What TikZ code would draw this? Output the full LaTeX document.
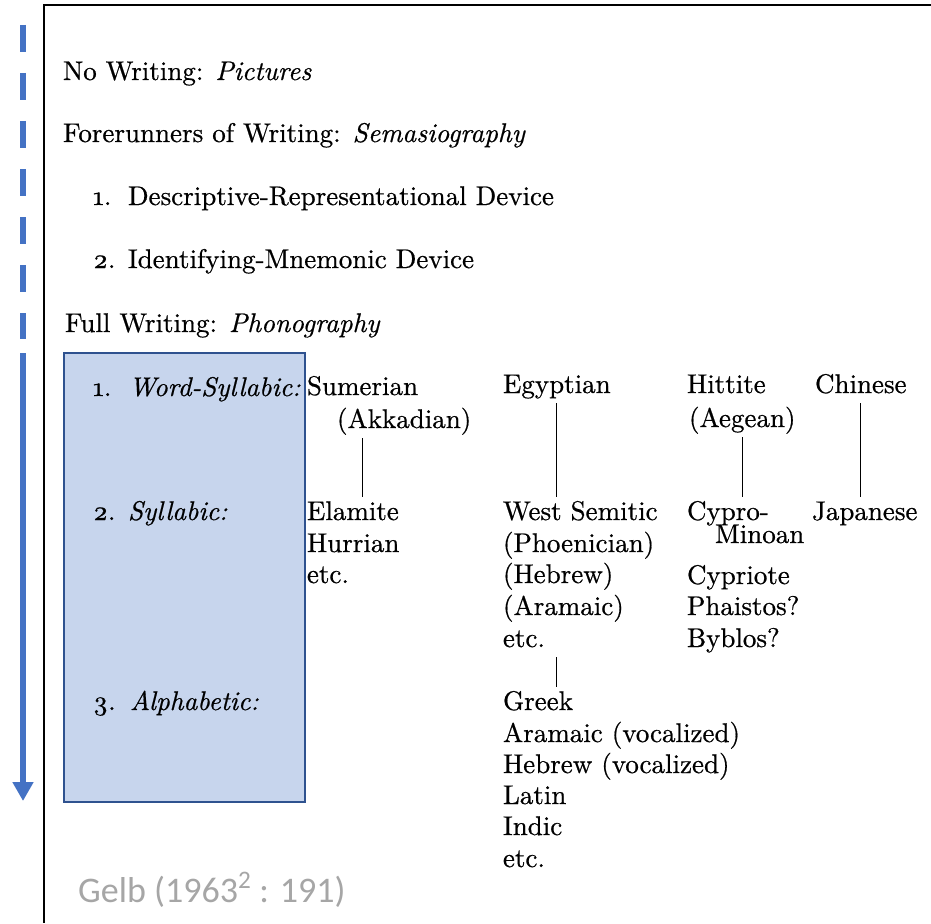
\RequirePackage{fix-cm}
\documentclass[tikz,border=0pt]{standalone}
\usepackage{fontspec}
\setmainfont{lmroman10-regular.otf}[FakeBold=0.6, ItalicFont=lmroman10-italic.otf, ItalicFeatures={FakeBold=0.6}]
\newfontfamily\gelbfont{Carlito}
\usetikzlibrary{arrows.meta}
\definecolor{arrowblue}{HTML}{4472C4}
\definecolor{boxfill}{HTML}{C7D5ED}
\definecolor{boxline}{HTML}{2F528F}
\definecolor{citegray}{HTML}{A6A6A6}
\newcommand{\osn}[1]{\oldstylenums{#1}}
\tikzset{
  txt/.style={anchor=base west, inner sep=0pt, outer sep=0pt, text height=19pt, text depth=7pt, font=\fontsize{27}{32}\selectfont},
  link/.style={line width=1.3pt, shorten <=3pt, shorten >=4pt},
  frame/.style={line width=1.6pt, black},
  bluebox/.style={draw=boxline, fill=boxfill, line width=1.6pt, inner sep=0pt},
  blueline/.style={draw=arrowblue, line width=6pt, line cap=butt},
  cite/.style={anchor=base west, inner sep=0pt, text=citegray, font=\gelbfont\fontsize{36}{42}\selectfont}
}
\begin{document}
\begin{tikzpicture}[x=1pt,y=-1pt]
\useasboundingbox (0,0) rectangle (931,923);
\fill[white] (0,0) rectangle (931,923);
% frame
\coordinate (fr0) at (931,5);
\coordinate (fr1) at (44,5);
\coordinate (fr2) at (44,923);
\draw[frame] (fr0) -- (fr1) -- (fr2);
% blue box
\node[bluebox, anchor=north west, minimum width=241pt, minimum height=449pt] (box) at (63,352) {};
% blue arrow
\coordinate (d0) at (23,25);
\coordinate (d1) at (23,339);
\coordinate (s0) at (23,353);
\coordinate (s1) at (23,801);
\draw[blueline, dash pattern=on 27pt off 21pt] (d0) -- (d1);
\draw[blueline, -{Triangle[width=20pt,length=19pt]}] (s0) -- (s1);
% upper list
\node[txt] (nw) at (63,80) {No Writing: \textit{Pictures}};
\node[txt] (fore) at (63,142) {Forerunners of Writing: \textit{Semasiography}};
\node[txt] (desc) at (93,205) {\makebox[35pt][l]{\osn{1}.}Descriptive-Representational Device};
\node[txt] (iden) at (93,268) {\makebox[35pt][l]{\osn{2}.}Identifying-Mnemonic Device};
\node[txt] (full) at (65,332) {Full Writing: \textit{Phonography}};
% box labels
\node[txt] (wsl) at (93,396) {\makebox[36pt][l]{\osn{1}.}\textit{Word-Syllabic:}};
\node[txt] (syl) at (93,520) {\makebox[35pt][l]{\osn{2}.}\textit{Syllabic:}};
\node[txt] (alp) at (93,710) {\makebox[37pt][l]{\osn{3}.}\textit{Alphabetic:}};
% word-syllabic row
\node[txt] (sum) at (307,395) {Sumerian};
\node[txt] (akk) at (337,428) {(Akkadian)};
\node[txt] (egy) at (503,393) {Egyptian};
\node[txt] (hit) at (687,393) {Hittite};
\node[txt] (aeg) at (689,427) {(Aegean)};
\node[txt] (chi) at (815,393) {Chinese};
% syllabic row
\node[txt] (elam) at (307,520) {Elamite};
\node[txt] (hur) at (307,552) {Hurrian};
\node[txt] (etca) at (307,583) {etc.};
\node[txt] (ws) at (503,520) {West Semitic};
\node[txt] (phoe) at (503,552) {(Phoenician)};
\node[txt] (heb) at (503,583) {(Hebrew)};
\node[txt] (aram) at (503,615) {(Aramaic)};
\node[txt] (etcb) at (503,647) {etc.};
\node[txt] (cyp) at (687,520) {Cypro-};
\node[txt] (mino) at (715,543) {Minoan};
\node[txt] (cypr) at (687,584) {Cypriote};
\node[txt] (pha) at (687,615) {Phaistos?};
\node[txt] (byb) at (687,647) {Byblos?};
\node[txt] (jap) at (812,520) {Japanese};
% alphabetic row
\node[txt] (greek) at (503,710) {Greek};
\node[txt] (aramv) at (503,742) {Aramaic (vocalized)};
\node[txt] (hebv) at (503,773) {Hebrew (vocalized)};
\node[txt] (lat) at (503,804) {Latin};
\node[txt] (ind) at (503,835) {Indic};
\node[txt] (etcc) at (503,867) {etc.};
% connectors
\draw[link] (sum.south |- akk.south) -- (sum.south |- elam.north);
\draw[link] (egy.south) -- (egy.south |- ws.north);
\draw[link] (aeg.south) -- (aeg.south |- cyp.north);
\draw[link] (chi.south) -- (chi.south |- jap.north);
\draw[link] (egy.south |- etcb.south) -- (egy.south |- greek.north);
% citation
\node[cite] (gelb) at (78,902) {Gelb (1963\textsuperscript{2} : 191)};
\end{tikzpicture}
\end{document}
